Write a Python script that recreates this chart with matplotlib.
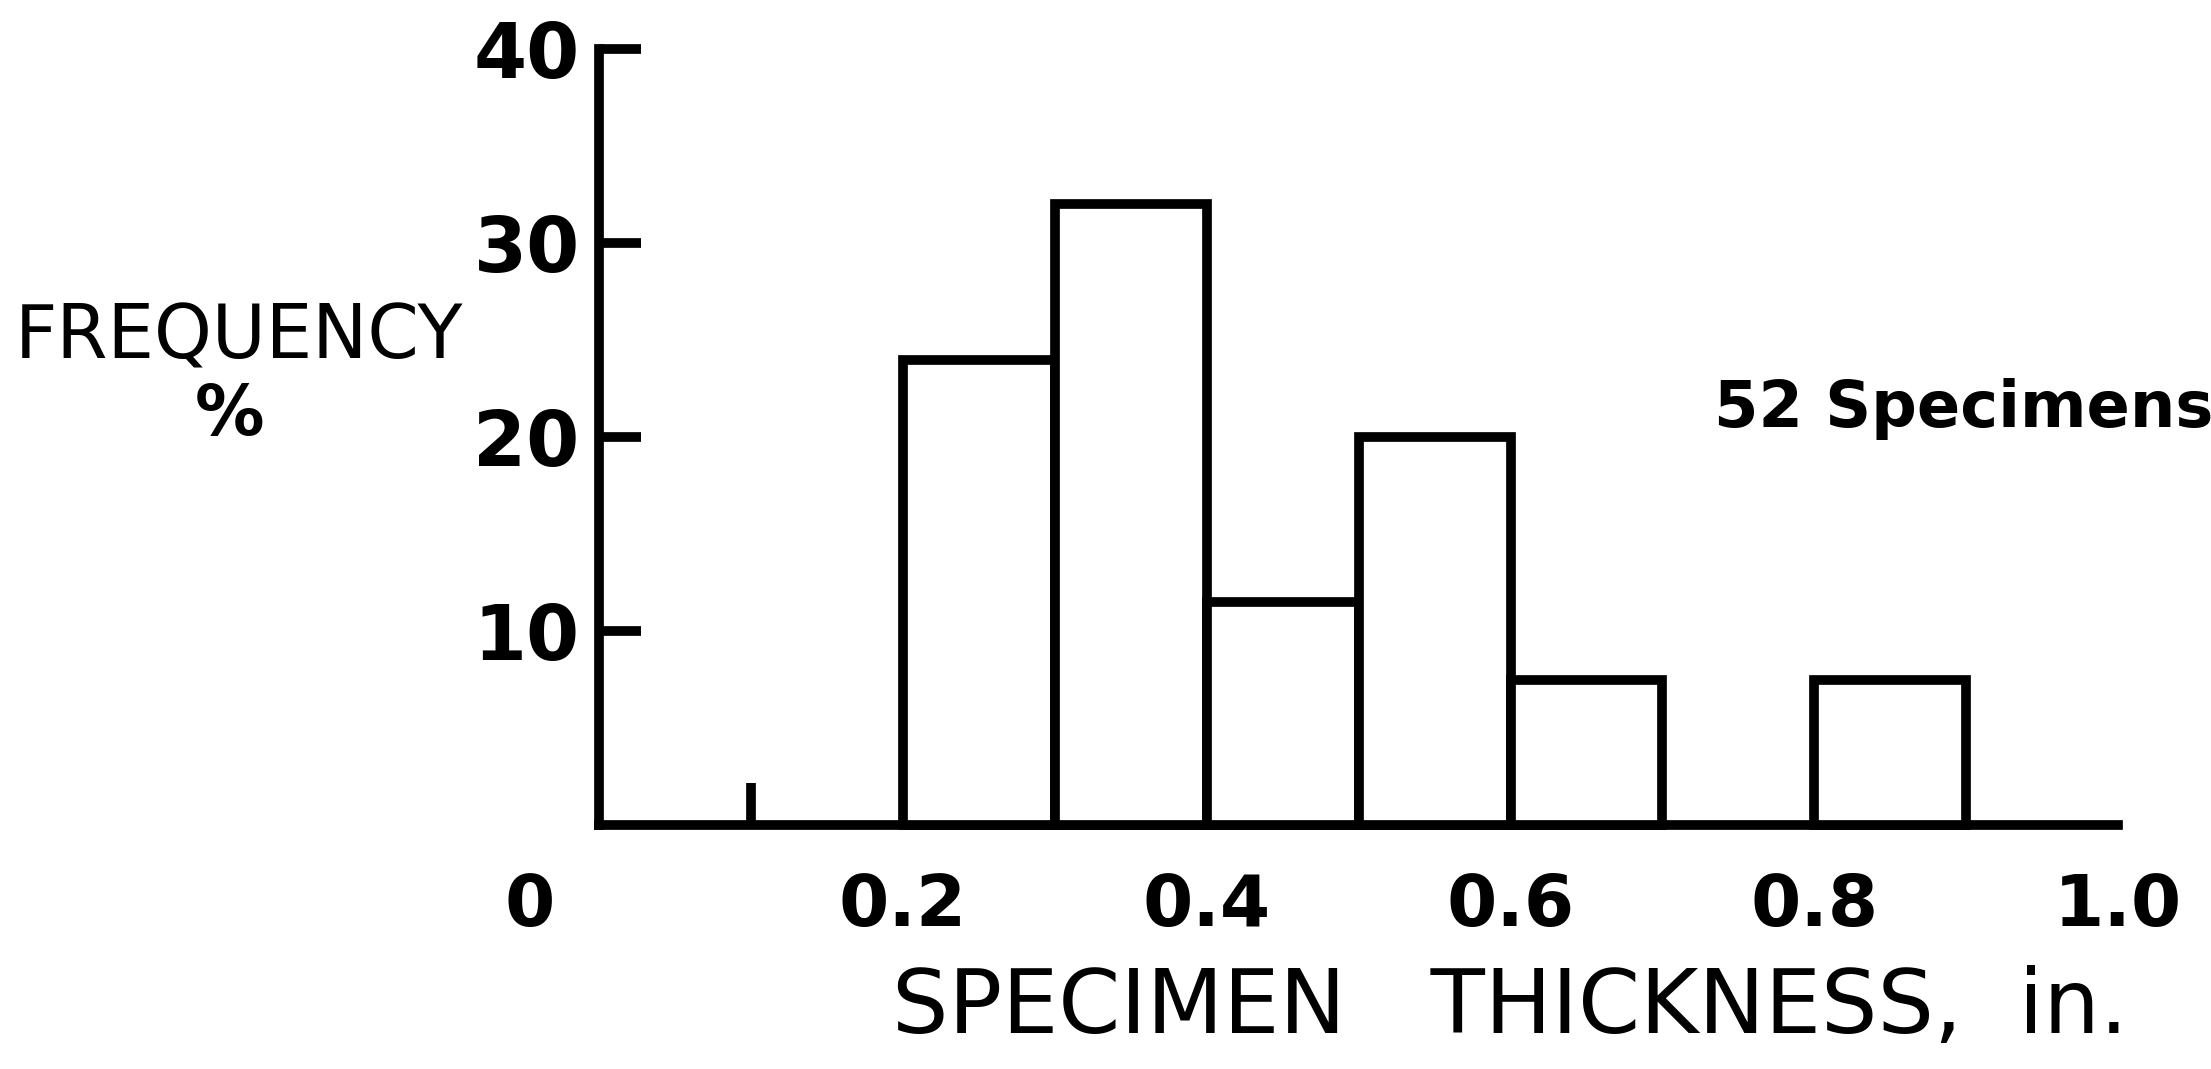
import matplotlib
matplotlib.use("Agg")
import matplotlib.pyplot as plt

# histogram bins (inches) and frequency (%)
bin_left = [0.2, 0.3, 0.4, 0.5, 0.6, 0.8]
freq_pct = [24, 32, 11.5, 20, 7.5, 7.5]
bin_width = 0.1

y_ticks = [10, 20, 30, 40]
x_ticks = [0.2, 0.4, 0.6, 0.8, 1.0]
x_labels = ["0.2", "0.4", "0.6", "0.8", "1.0"]

plt.rcParams['font.family'] = ['DejaVu Sans']
lw = 7

fig = plt.figure(figsize=(22.11, 10.69), dpi=100)
ax = fig.add_axes([0.271, 0.228, 0.687, 0.726])

ax.bar(bin_left, freq_pct, width=bin_width, align='edge', facecolor='white',
       edgecolor='black', linewidth=lw, clip_on=False, zorder=3)

ax.set_xlim(0, 1.0)
ax.set_ylim(0, 40)
for s in ['top', 'right']:
    ax.spines[s].set_visible(False)
for s in ['left', 'bottom']:
    ax.spines[s].set_linewidth(lw)
    ax.spines[s].set_capstyle('projecting')

# y ticks point inward
ax.set_yticks(y_ticks)
ax.set_yticklabels([str(v) for v in y_ticks], fontsize=55, fontweight='bold')
ax.tick_params(axis='y', direction='in', length=30, width=lw, pad=14)

# x labels without marks, small upward marks at 0.1 and 1.0
ax.set_xticks(x_ticks)
ax.set_xticklabels(x_labels, fontsize=52, fontweight='bold')
ax.tick_params(axis='x', which='major', length=0, pad=34)
ax.set_xticks([0.1, 1.0], minor=True)
ax.tick_params(axis='x', which='minor', direction='in', length=30, width=lw)

ax.annotate("0", xy=(0, 0), xytext=(-50, -34), textcoords='offset points',
            ha='center', va='top', fontsize=52, fontweight='bold')

fig.text(0.108, 0.684, "FREQUENCY", ha='center', va='center', fontsize=53)
fig.text(0.104, 0.611, "%", ha='center', va='center', fontsize=50, fontweight='bold')
fig.text(0.888, 0.617, "52 Specimens", ha='center', va='center', fontsize=46,
         fontweight='bold')
fig.text(0.683, 0.057, "SPECIMEN   THICKNESS,  in.", ha='center', va='center',
         fontsize=64)

fig.savefig("out.png", dpi=100, facecolor='white')
